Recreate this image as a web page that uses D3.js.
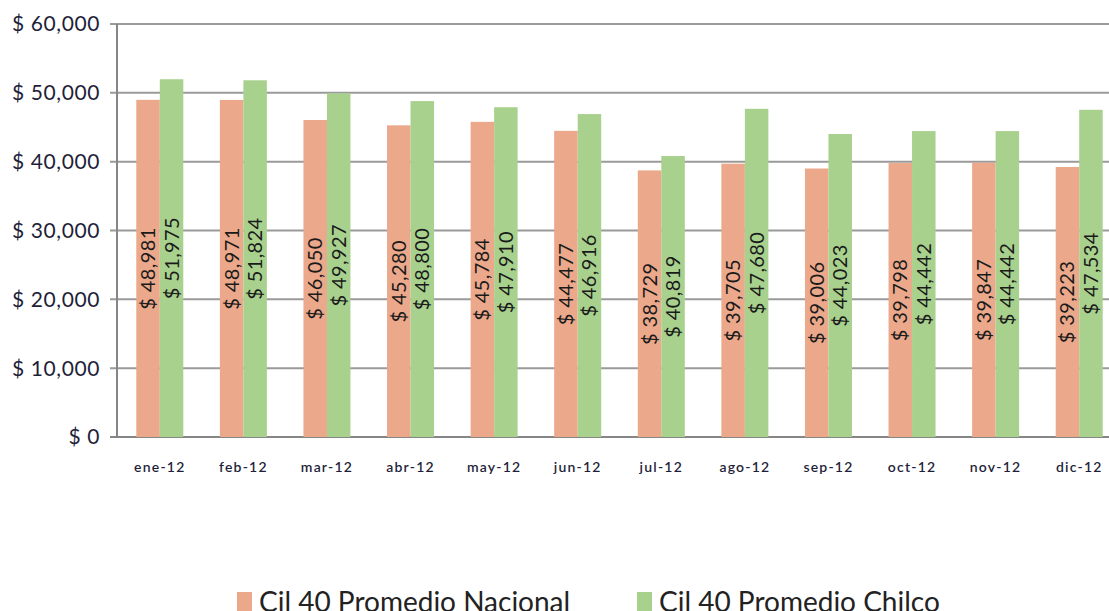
<!DOCTYPE html>
<html>
<head>
<meta charset="utf-8">
<script src="https://cdn.jsdelivr.net/npm/d3@7"></script>
<style>
  body { margin: 0; background: #fff; overflow: hidden; }
  text { font-family: Lato, "Open Sans", sans-serif; }
</style>
</head>
<body>
<script>
var months = ["ene-12", "feb-12", "mar-12", "abr-12", "may-12", "jun-12",
              "jul-12", "ago-12", "sep-12", "oct-12", "nov-12", "dic-12"];
var nacional = [48981, 48971, 46050, 45280, 45784, 44477, 38729, 39705, 39006, 39798, 39847, 39223];
var chilco = [51975, 51824, 49927, 48800, 47910, 46916, 40819, 47680, 44023, 44442, 44442, 47534];
var seriesNames = ["Cil 40 Promedio Nacional", "Cil 40 Promedio Chilco"];
var yTicks = [0, 10000, 20000, 30000, 40000, 50000, 60000];

var W = 1109, H = 611;
var colors = ["#EBA88A", "#A9D18E"];
var mLeft = 118, mRight = 1121, mTop = 24, mBottom = 437;

var svg = d3.select("body").append("svg").attr("width", W).attr("height", H);

var x = d3.scaleBand().domain(months).range([mLeft, mRight]);
var y = d3.scaleLinear().domain([0, 60000]).range([mBottom, mTop]);
var fmt = d3.format(",");
var barW = 23.5;

// grid
svg.append("g").selectAll("line").data(yTicks).enter().append("line")
  .attr("x1", mLeft - 8).attr("x2", W)
  .attr("y1", function(d){ return y(d); }).attr("y2", function(d){ return y(d); })
  .attr("stroke", function(d){ return d === 0 ? "#868686" : "#9a9a9a"; })
  .attr("stroke-width", 2);

svg.append("line").attr("x1", mLeft - 1).attr("x2", mLeft - 1)
  .attr("y1", mTop).attr("y2", mBottom)
  .attr("stroke", "#868686").attr("stroke-width", 2);

svg.append("g").selectAll("text").data(yTicks).enter().append("text")
  .attr("x", 100).attr("y", function(d){ return y(d); })
  .attr("dy", "0.35em").attr("text-anchor", "end")
  .attr("font-size", 21).attr("letter-spacing", 0.6).attr("fill", "#1f1f3a")
  .text(function(d){ return "$ " + fmt(d); });

var data = [nacional, chilco];

data.forEach(function(vals, si) {
  var g = svg.append("g");
  g.selectAll("rect").data(vals).enter().append("rect")
    .attr("x", function(d, i){ return x(months[i]) + x.bandwidth() / 2 - barW + si * barW; })
    .attr("width", barW)
    .attr("y", function(d){ return y(d); })
    .attr("height", function(d){ return mBottom - y(d); })
    .attr("fill", colors[si]);
});

data.forEach(function(vals, si) {
  svg.append("g").selectAll("text").data(vals).enter().append("text")
    .attr("transform", function(d, i){
      var cx = x(months[i]) + x.bandwidth() / 2 - barW / 2 + si * barW;
      var cy = (y(d) + mBottom) / 2;
      return "translate(" + cx + "," + cy + ") rotate(-90)";
    })
    .attr("text-anchor", "middle").attr("dy", "0.35em")
    .attr("font-size", 20).attr("letter-spacing", 0.4).attr("fill", "#1a1a1a")
    .text(function(d){ return "$ " + fmt(d); });
});

svg.append("g").selectAll("text").data(months).enter().append("text")
  .attr("x", function(d){ return x(d) + x.bandwidth() / 2; })
  .attr("y", 467).attr("dy", "0.35em")
  .attr("text-anchor", "middle").attr("font-size", 14).attr("font-weight", 600)
  .attr("letter-spacing", 1.2).attr("fill", "#1f1f3a")
  .text(function(d){ return d; });

// legend
var legX = [237, 637];
seriesNames.forEach(function(n, i) {
  svg.append("rect").attr("x", legX[i]).attr("y", 592).attr("width", 15).attr("height", 19)
    .attr("fill", colors[i]);
  svg.append("text").attr("x", legX[i] + 22).attr("y", 612)
    .attr("font-size", 28).attr("fill", "#222").text(n);
});
</script>
</body>
</html>
